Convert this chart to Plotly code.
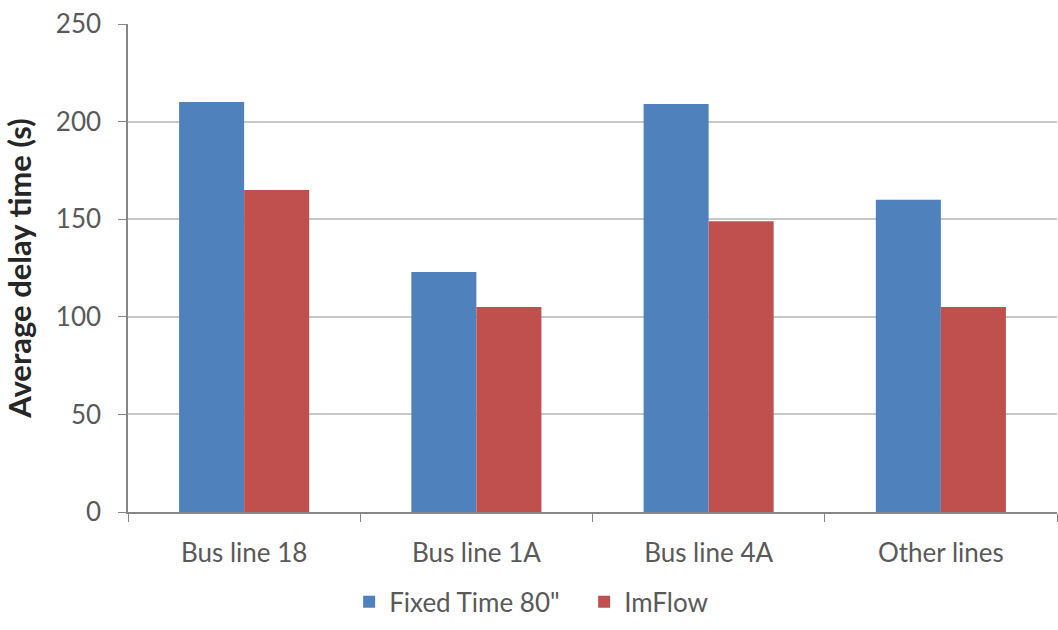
import plotly.graph_objects as go

categories = ["Bus line 18", "Bus line 1A", "Bus line 4A", "Other lines"]
fixed_time = [210, 123, 209, 160]
imflow = [165, 105, 149, 105]
y_ticks = [0, 50, 100, 150, 200, 250]

FONT = "Lato, Calibri, Carlito, sans-serif"

fig = go.Figure()
fig.add_trace(go.Bar(x=categories, y=fixed_time, name="Fixed Time 80\"",
                     marker=dict(color="#4F81BD", line=dict(width=0))))
fig.add_trace(go.Bar(x=categories, y=imflow, name="ImFlow",
                     marker=dict(color="#C0504D", line=dict(width=0))))

fig.update_layout(
    width=1058, height=630,
    margin=dict(l=128, r=1, t=24, b=118, autoexpand=False),
    paper_bgcolor="white", plot_bgcolor="white",
    barmode="group", bargap=0.44, bargroupgap=0,
    font=dict(family=FONT, color="#595959", size=26),
    legend=dict(orientation="h", x=0.491, xanchor="center",
                y=-0.184, yanchor="middle",
                font=dict(size=26, color="#595959"), itemwidth=30,
                entrywidth=190, entrywidthmode="pixels",
                traceorder="normal"),
    xaxis=dict(
        type="category", tickson="boundaries", ticks="outside", ticklen=8,
        tickcolor="#868686", showline=True, linecolor="#868686", linewidth=1.5,
        showgrid=False, tickfont=dict(size=26, color="#595959"),
        ticklabelstandoff=17, tickangle=0,
    ),
    yaxis=dict(
        range=[0, 250], tickvals=y_ticks, ticks="outside", ticklen=8,
        tickcolor="#868686", showline=True, linecolor="#868686", linewidth=1.5,
        showgrid=True, gridcolor="#C8C8C8", gridwidth=1.5, zeroline=False,
        tickfont=dict(size=26, color="#595959"), ticklabelstandoff=12,
        title=dict(text="<b>Average delay time (s)</b>", standoff=20,
                   font=dict(size=31, color="#262626")),
    ),
)

fig.write_html("out.html")
